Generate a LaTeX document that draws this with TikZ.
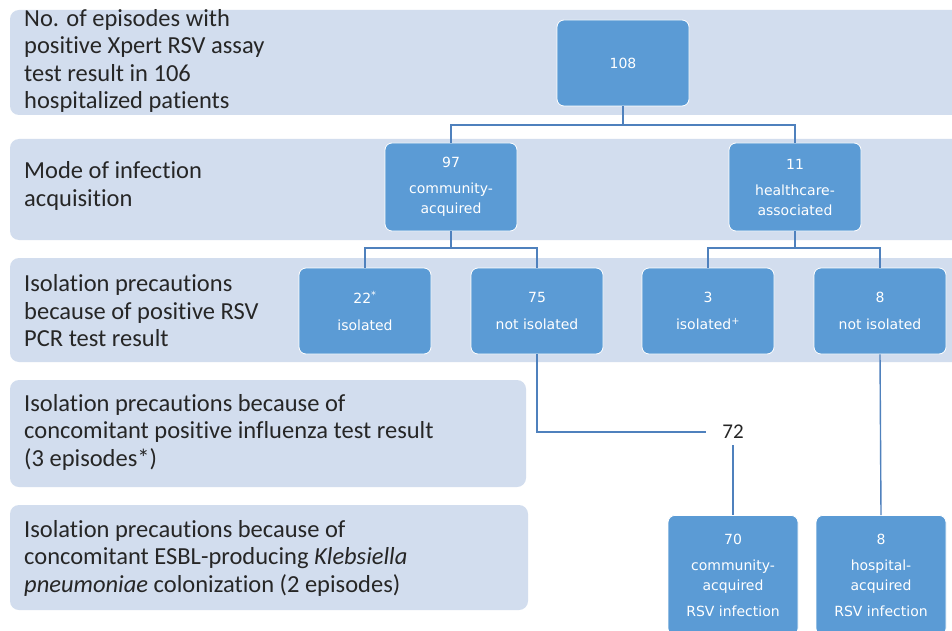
\documentclass[tikz,border=0pt]{standalone}
\usepackage{fontspec}
\setmainfont[Ligatures=CommonOff]{Carlito}
\newfontfamily\boxfont{DejaVu Sans}
\definecolor{bandc}{HTML}{D2DDEE}
\definecolor{boxc}{HTML}{5B9BD5}
\definecolor{linec}{HTML}{4F81BD}
\tikzset{
  band/.style={fill=bandc, draw=none, rounded corners=9pt},
  lbl/.style={anchor=west, align=left, inner sep=0pt, font=\fontsize{24.5}{27.5}\selectfont, text=black!85},
  fbox/.style={fill=boxc, draw=white, line width=0.8pt, rounded corners=7pt, text=white,
     minimum width=132pt, minimum height=88pt, align=center, inner sep=0pt,
     font=\boxfont\fontsize{14}{20}\selectfont},
  fbox2/.style={fbox, minimum height=86pt, font=\boxfont\fontsize{14}{27}\selectfont},
  conn/.style={draw=linec, line width=1.4pt}
}
\begin{document}
\begin{tikzpicture}[x=1pt,y=-1pt]
\clip (0,0) rectangle (952,631);
\fill[white] (0,0) rectangle (952,631);
% bands
\fill[band] (10,10) rectangle (980,115);
\fill[band] (10,139) rectangle (980,240);
\fill[band] (10,258) rectangle (980,362);
\fill[band] (10,380) rectangle (526,487);
\fill[band] (10,505) rectangle (528,610);
% band labels
\node[lbl] (l1) at (24,61) {No. of episodes with\\positive Xpert RSV assay\\test result in 106\\hospitalized patients};
\node[lbl] (l2) at (24,186) {Mode of infection\\acquisition};
\node[lbl] (l3) at (24,311) {Isolation precautions\\because of positive RSV\\PCR test result};
\node[lbl] (l4) at (24,432) {Isolation precautions because of\\concomitant positive influenza test result\\(3 episodes*)};
\node[lbl] (l5) at (24,558) {Isolation precautions because of\\concomitant ESBL-producing \textit{Klebsiella}\\\textit{pneumoniae} colonization (2 episodes)};
% boxes
\node[fbox, minimum height=86pt] (b108) at (623,63) {108};
\node[fbox] (b97) at (451,187) {97\\[6pt]community-\\acquired};
\node[fbox] (b11) at (795,187) {11\\[6pt]healthcare-\\associated};
\node[fbox2] (b22) at (365,311) {22\textsuperscript{*}\\isolated};
\node[fbox2] (b75) at (537,311) {75\\not isolated};
\node[fbox2] (b3) at (708,311) {3\\isolated\textsuperscript{+}};
\node[fbox2] (b8a) at (880,311) {8\\not isolated};
\node[fbox, anchor=north, minimum width=130pt, minimum height=120pt] (b70) at (733,515) {70\\[6pt]community-\\acquired\\[6pt]RSV infection};
\node[fbox, anchor=north, minimum width=130pt, minimum height=120pt] (b8b) at (881,515) {8\\[6pt]hospital-\\acquired\\[6pt]RSV infection};
\node[font=\fontsize{21}{24}\selectfont, inner xsep=16pt, inner ysep=6pt, text=black!85] (n72) at (733,432) {72};
% connectors
\draw[conn] (b108.south) -- (b108.south |- 0,125) -| (b97.north);
\draw[conn] (b108.south |- 0,125) -| (b11.north);
\draw[conn] (b97.south) -- (b97.south |- 0,248) -| (b22.north);
\draw[conn] (b97.south |- 0,248) -| (b75.north);
\draw[conn] (b11.south) -- (b11.south |- 0,248) -| (b3.north);
\draw[conn] (b11.south |- 0,248) -| (b8a.north);
\draw[conn] (b75.south) |- (n72.west);
\draw[conn] (n72.south) -- (b70.north);
\draw[conn] (b8a.south) -- (b8b.north);
\end{tikzpicture}
\end{document}
